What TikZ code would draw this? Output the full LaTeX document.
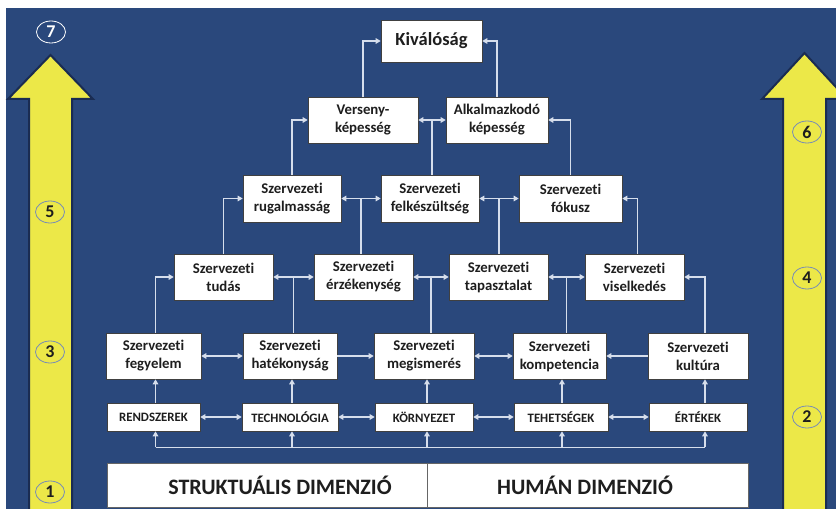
\documentclass[tikz,border=0pt]{standalone}
\usepackage{fontspec}
\setmainfont{Carlito}[Ligatures=NoCommon]
\usetikzlibrary{arrows.meta,calc,shapes.geometric}

\definecolor{bgblue}{RGB}{42,72,124}
\definecolor{edgeblue}{RGB}{26,44,82}
\definecolor{arrowyellow}{RGB}{236,232,72}
\definecolor{linkgray}{RGB}{214,222,236}
\definecolor{ink}{RGB}{30,30,30}
\definecolor{ringblue}{RGB}{120,140,182}

\begin{document}
\begin{tikzpicture}[x=1bp,y=-1bp,
  box/.style={draw=black!75, line width=0.6bp, fill=white, text=ink,
    font=\fontsize{14.8bp}{18bp}\selectfont\bfseries, align=center,
    inner sep=0pt, minimum height=46bp},
  tag/.style={box, font=\fontsize{12.8bp}{14bp}\selectfont\bfseries, minimum height=28bp},
  dimbox/.style={fill=white, draw=black!60, line width=0.6bp, text=ink,
    font=\fontsize{22bp}{26bp}\selectfont\bfseries, minimum height=44bp, inner sep=0pt},
  link/.style={draw=linkgray, line width=1.3bp},
  one/.style={link, -{Triangle[length=5bp,width=5.5bp]}},
  two/.style={link, {Triangle[length=5bp,width=5.5bp]}-{Triangle[length=5bp,width=5.5bp]}},
  ring/.style={ellipse, draw=ringblue, line width=0.8bp, minimum width=29bp,
    minimum height=22bp, inner sep=0pt,
    font=\fontsize{18bp}{18bp}\selectfont\bfseries, text=ink},
  bigarrow/.style={fill=arrowyellow, draw=edgeblue, line width=2bp, line join=miter}
]
\useasboundingbox (0,0) rectangle (836,509);
\clip (0,0) rectangle (836,509);
\fill[white] (0,0) rectangle (836,509);
\fill[bgblue] (6,8) rectangle (836,509);

% rising arrows at both sides
\draw[bigarrow] (29,514) -- (29,99) -- (8,99) -- (50.5,55) -- (93,99) -- (72,99) -- (72,514) -- cycle;
\draw[bigarrow] (783,514) -- (783,99) -- (762,99) -- (804.5,53) -- (847,99) -- (826,99) -- (826,514) -- cycle;

% numbered steps
\node[ring, draw=white, text=white] (n7) at (51,32) {7};
\node[ring] (n5) at (50,212) {5};
\node[ring] (n3) at (50,352) {3};
\node[ring] (n1) at (50,492) {1};
\node[ring] (n6) at (807,132) {6};
\node[ring] (n4) at (807,278) {4};
\node[ring] (n2) at (807,417) {2};

% tier 1 and 2
\node[box, minimum width=101bp, minimum height=42bp, font=\fontsize{18.5bp}{20bp}\selectfont\bfseries] (kiv) at (431.5,41) {Kiválóság};
\node[box, minimum width=110bp] (vers) at (363,120) {Verseny-\\képesség};
\node[box, minimum width=102bp] (alk) at (497,120) {Alkalmazkodó\\képesség};

% tier 3
\node[box, minimum width=98bp, minimum height=47bp] (rug) at (292,198.5) {Szervezeti\\rugalmasság};
\node[box, minimum width=98bp, minimum height=47bp] (felk) at (430,198.5) {Szervezeti\\felkészültség};
\node[box, minimum width=103bp, minimum height=47bp] (fok) at (570.5,198.5) {Szervezeti\\fókusz};

% tier 4
\node[box, minimum width=99bp] (tud) at (223.5,277) {Szervezeti\\tudás};
\node[box, minimum width=99bp] (erz) at (363.5,277) {Szervezeti\\érzékenység};
\node[box, minimum width=99bp] (tap) at (498.5,277) {Szervezeti\\tapasztalat};
\node[box, minimum width=99bp] (vis) at (634.5,277) {Szervezeti\\viselkedés};

% tier 5
\node[box, minimum width=95bp] (feg) at (153.5,356) {Szervezeti\\fegyelem};
\node[box, minimum width=94bp] (hat) at (290,356) {Szervezeti\\hatékonyság};
\node[box, minimum width=100bp] (meg) at (424,356) {Szervezeti\\megismerés};
\node[box, minimum width=93bp] (komp) at (559.5,356) {Szervezeti\\kompetencia};
\node[box, minimum width=100bp] (kult) at (698,356) {Szervezeti\\kultúra};

% foundations
\node[tag, minimum width=93bp] (rend) at (153.5,417) {RENDSZEREK};
\node[tag, minimum width=96bp] (tech) at (290,417) {TECHNOLÓGIA};
\node[tag, minimum width=98bp] (korny) at (424,417) {KÖRNYEZET};
\node[tag, minimum width=94bp] (tehet) at (561,417) {TEHETSÉGEK};
\node[tag, minimum width=98bp] (ertek) at (698,417) {ÉRTÉKEK};

% dimensions
\node[dimbox, minimum width=320bp] (strukt) at (267,485) {\hspace*{26bp}STRUKTUÁLIS DIMENZIÓ};
\node[dimbox, minimum width=321bp] (human) at (587.5,485) {HUMÁN DIMENZIÓ\hspace*{5bp}};

% tier 1 links
\draw[one] (vers.north) |- (kiv.west);
\draw[one] (alk.north) |- (kiv.east);

% tier 2 links
\draw[one] (rug.north) |- (vers.west);
\draw[two] (vers.east) -- (alk.west);
\coordinate (j1) at ($(vers.east)!0.5!(alk.west)$);
\draw[link] (j1) -- (j1 |- felk.north);
\draw[one] (fok.north) |- (alk.east);

% tier 3 links
\draw[one] (tud.north) |- (rug.west);
\draw[two] (rug.east) -- (felk.west);
\coordinate (j2) at ($(rug.east)!0.5!(felk.west)$);
\draw[link] (j2) -- (j2 |- erz.north);
\draw[two] (felk.east) -- (fok.west);
\coordinate (j3) at ($(felk.east)!0.5!(fok.west)$);
\draw[link] (j3) -- (j3 |- tap.north);
\coordinate (visUp) at ($(vis.north)+(3,0)$);
\draw[one] (visUp) |- (fok.east);

% tier 4 links
\coordinate (fegUp) at ($(feg.north)+(2,0)$);
\draw[one] (fegUp) |- (tud.west);
\draw[two] (tud.east) -- (erz.west);
\coordinate (j4) at ($(tud.east)!0.5!(erz.west)$);
\draw[link] (j4) -- (j4 |- hat.north);
\draw[two] (erz.east) -- (tap.west);
\coordinate (j5) at ($(erz.east)!0.5!(tap.west)$);
\draw[link] (j5) -- (j5 |- meg.north);
\draw[two] (tap.east) -- (vis.west);
\coordinate (j6) at ($(tap.east)!0.5!(vis.west)$);
\draw[link] (j6) -- (j6 |- komp.north);
\coordinate (kultUp) at ($(kult.north)+(7,0)$);
\draw[one] (kultUp) |- (vis.east);

% tier 5 links
\draw[two] (feg.east) -- (hat.west);
\draw[one] (hat.east) -- (meg.west);
\draw[two] (meg.east) -- (komp.west);
\draw[one] (kult.west) -- (komp.east);

% foundation links
\draw[two] (rend.east) -- (tech.west);
\draw[two] (tech.east) -- (korny.west);
\draw[two] (korny.east) -- (tehet.west);
\draw[two] (tehet.east) -- (ertek.west);
\coordinate (c1) at ($(rend.north)+(2,0)$);
\coordinate (c2) at ($(tech.north)+(2,0)$);
\coordinate (c3) at ($(korny.north)+(3,0)$);
\coordinate (c4) at ($(tehet.north)+(1,0)$);
\coordinate (c5) at ($(ertek.north)+(7,0)$);
\draw[one] (c1) -- (c1 |- feg.south);
\draw[one] (c2) -- (c2 |- hat.south);
\draw[one] (c3) -- (c3 |- meg.south);
\draw[one] (c4) -- (c4 |- komp.south);
\draw[one] (c5) -- (c5 |- kult.south);

% common feed under the foundations
\coordinate (busL) at ($(rend.south)+(2,16)$);
\coordinate (busR) at ($(ertek.south)+(7,16)$);
\draw[link] (busL) -- (busR);
\draw[one] (busL) -- (c1 |- rend.south);
\draw[one] (c2 |- busL) -- (c2 |- tech.south);
\draw[one] (c3 |- busL) -- (c3 |- korny.south);
\draw[one] (c4 |- busL) -- (c4 |- tehet.south);
\draw[one] (busR) -- (c5 |- ertek.south);
\end{tikzpicture}
\end{document}
